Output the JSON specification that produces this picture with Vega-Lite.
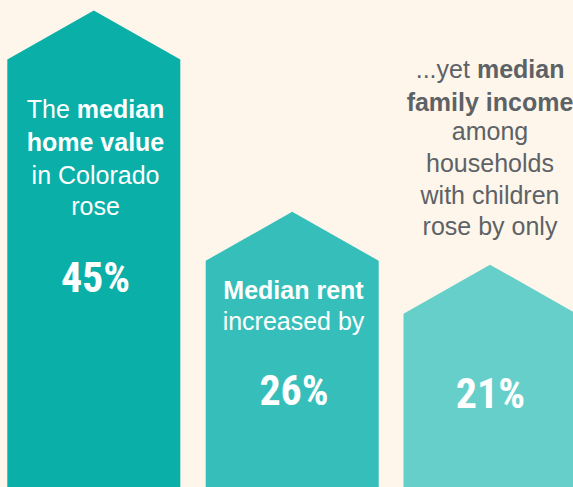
{
  "$schema": "https://vega.github.io/schema/vega-lite/v6.json",
  "width": 573,
  "height": 487,
  "padding": 0,
  "autosize": {"type": "none"},
  "background": "#fef6eb",
  "config": {"view": {"stroke": null}},
  "datasets": {
    "houses": [
      {"house": "Home value", "x": 7.3, "y": 40.37},
      {"house": "Home value", "x": 93.8, "y": 45},
      {"house": "Home value", "x": 180.3, "y": 40.37},
      {"house": "Rent", "x": 205.7, "y": 21.37},
      {"house": "Rent", "x": 292.2, "y": 26},
      {"house": "Rent", "x": 378.7, "y": 21.37},
      {"house": "Family income", "x": 403.5, "y": 16.37},
      {"house": "Family income", "x": 490, "y": 21},
      {"house": "Family income", "x": 576.5, "y": 16.37}
    ],
    "pcts": [
      {"label": "45%", "x": 95.5, "y": 18.45},
      {"label": "26%", "x": 294, "y": 7.75},
      {"label": "21%", "x": 490.3, "y": 7.46}
    ],
    "texts": [
      {"text": "The", "kind": "wr", "x": 69.85, "y": 34.85},
      {"text": "median", "kind": "wbl", "x": 76.8, "y": 34.85},
      {"text": "home value", "kind": "wbc", "x": 95.5, "y": 31.74},
      {"text": "in Colorado", "kind": "wc", "x": 95.5, "y": 28.62},
      {"text": "rose", "kind": "wc", "x": 95.5, "y": 25.69},
      {"text": "Median rent", "kind": "wbc", "x": 293.5, "y": 17.76},
      {"text": "increased by", "kind": "wc", "x": 293.5, "y": 14.83},
      {"text": "...yet", "kind": "gr", "x": 469.9, "y": 38.6},
      {"text": "median", "kind": "gbl", "x": 476.9, "y": 38.6},
      {"text": "family income", "kind": "gbc", "x": 490, "y": 35.54},
      {"text": "among", "kind": "gc", "x": 490, "y": 32.82},
      {"text": "households", "kind": "gc", "x": 490, "y": 29.78},
      {"text": "with children", "kind": "gc", "x": 490, "y": 26.73},
      {"text": "rose by only", "kind": "gc", "x": 490, "y": 23.8}
    ]
  },
  "encoding": {
    "x": {"field": "x", "type": "quantitative", "scale": {"domain": [0, 573], "nice": false, "zero": false}, "axis": null},
    "y": {"field": "y", "type": "quantitative", "scale": {"domain": [0, 46], "nice": false, "zero": false}, "axis": null}
  },
  "layer": [
    {
      "data": {"name": "houses"},
      "mark": {"type": "area", "clip": true, "opacity": 1},
      "encoding": {
        "y2": {"datum": 0},
        "color": {
          "field": "house",
          "type": "nominal",
          "scale": {"domain": ["Home value", "Rent", "Family income"], "range": ["#0aafa8", "#36bfba", "#67cfca"]},
          "legend": null
        }
      }
    },
    {
      "data": {"name": "pcts"},
      "mark": {"type": "text", "align": "center", "baseline": "alphabetic", "font": "Roboto Condensed, Liberation Sans Narrow, Roboto, sans-serif", "fontWeight": "bold", "fontSize": 42, "color": "#ffffff"},
      "encoding": {"text": {"field": "label"}}
    },
    {
      "data": {"name": "texts"},
      "transform": [{"filter": "datum.kind == 'wc'"}],
      "mark": {"type": "text", "align": "center", "baseline": "alphabetic", "font": "Liberation Sans, Arial, sans-serif", "fontSize": 25, "color": "#ffffff"},
      "encoding": {"text": {"field": "text"}}
    },
    {
      "data": {"name": "texts"},
      "transform": [{"filter": "datum.kind == 'wbc'"}],
      "mark": {"type": "text", "align": "center", "baseline": "alphabetic", "font": "Liberation Sans, Arial, sans-serif", "fontWeight": "bold", "fontSize": 25, "color": "#ffffff"},
      "encoding": {"text": {"field": "text"}}
    },
    {
      "data": {"name": "texts"},
      "transform": [{"filter": "datum.kind == 'wr'"}],
      "mark": {"type": "text", "align": "right", "baseline": "alphabetic", "font": "Liberation Sans, Arial, sans-serif", "fontSize": 25, "color": "#ffffff"},
      "encoding": {"text": {"field": "text"}}
    },
    {
      "data": {"name": "texts"},
      "transform": [{"filter": "datum.kind == 'wbl'"}],
      "mark": {"type": "text", "align": "left", "baseline": "alphabetic", "font": "Liberation Sans, Arial, sans-serif", "fontWeight": "bold", "fontSize": 25, "color": "#ffffff"},
      "encoding": {"text": {"field": "text"}}
    },
    {
      "data": {"name": "texts"},
      "transform": [{"filter": "datum.kind == 'gc'"}],
      "mark": {"type": "text", "align": "center", "baseline": "alphabetic", "font": "Liberation Sans, Arial, sans-serif", "fontSize": 25, "color": "#5d6266"},
      "encoding": {"text": {"field": "text"}}
    },
    {
      "data": {"name": "texts"},
      "transform": [{"filter": "datum.kind == 'gbc'"}],
      "mark": {"type": "text", "align": "center", "baseline": "alphabetic", "font": "Liberation Sans, Arial, sans-serif", "fontWeight": "bold", "fontSize": 25, "color": "#5d6266"},
      "encoding": {"text": {"field": "text"}}
    },
    {
      "data": {"name": "texts"},
      "transform": [{"filter": "datum.kind == 'gr'"}],
      "mark": {"type": "text", "align": "right", "baseline": "alphabetic", "font": "Liberation Sans, Arial, sans-serif", "fontSize": 25, "color": "#5d6266"},
      "encoding": {"text": {"field": "text"}}
    },
    {
      "data": {"name": "texts"},
      "transform": [{"filter": "datum.kind == 'gbl'"}],
      "mark": {"type": "text", "align": "left", "baseline": "alphabetic", "font": "Liberation Sans, Arial, sans-serif", "fontWeight": "bold", "fontSize": 25, "color": "#5d6266"},
      "encoding": {"text": {"field": "text"}}
    }
  ]
}
